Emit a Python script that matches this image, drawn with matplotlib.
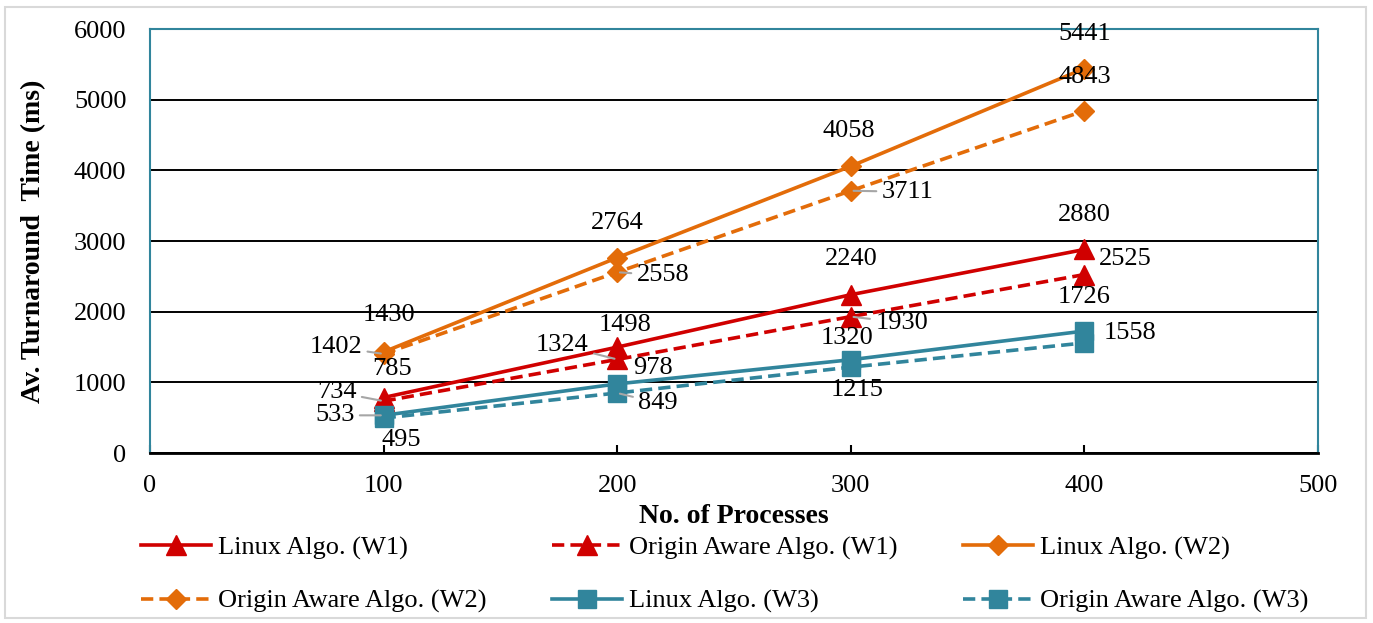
import matplotlib
matplotlib.use("Agg")
import matplotlib.pyplot as plt
from matplotlib.patches import Rectangle

# ---- data -------------------------------------------------------------
processes = [100, 200, 300, 400]

linux_w1 = [785, 1498, 2240, 2880]
origin_w1 = [734, 1324, 1930, 2525]
linux_w2 = [1430, 2764, 4058, 5441]
origin_w2 = [1402, 2558, 3711, 4843]
linux_w3 = [533, 978, 1320, 1726]
origin_w3 = [495, 849, 1215, 1558]

series_names = [
    "Linux Algo. (W1)", "Origin Aware Algo. (W1)",
    "Linux Algo. (W2)", "Origin Aware Algo. (W2)",
    "Linux Algo. (W3)", "Origin Aware Algo. (W3)",
]

x_ticks = [0, 100, 200, 300, 400, 500]
y_ticks = [0, 1000, 2000, 3000, 4000, 5000, 6000]

# ---- styling ----------------------------------------------------------
RED = "#d00000"
ORANGE = "#e36c09"
TEAL = "#31859c"
LEADER = "#a6a6a6"

plt.rcParams["font.family"] = ["Liberation Serif", "DejaVu Serif"]
FS = 19

# label offsets in pixels (dx, dy) and whether a leader line is drawn
label_layout = {
    0: [((8, 29), False), ((8, 22), False), ((0, 36), False), ((0, 34), False)],
    1: [((-47, 9), True), ((-55, 14), True), ((51, -6), True), ((41, 16), False)],
    2: [((5, 37), False), ((0, 35), False), ((-2, 35), False), ((0, 35), False)],
    3: [((-48, 7), True), ((46, -3), True), ((57, -1), True), ((0, 34), False)],
    4: [((-49, 0), True), ((36, 16), False), ((-4, 22), False), ((0, 34), False)],
    5: [((18, -22), False), ((41, -10), True), ((6, -23), False), ((46, 10), False)],
}

fig = plt.figure(figsize=(13.73, 6.23), dpi=100)
ax = fig.add_axes([150 / 1373, 1 - 453 / 623, 1168 / 1373, 424 / 623])

series = [linux_w1, origin_w1, linux_w2, origin_w2, linux_w3, origin_w3]
colors = [RED, RED, ORANGE, ORANGE, TEAL, TEAL]
markers = ["^", "^", "D", "D", "s", "s"]
msizes = [14, 14, 10.5, 10.5, 13, 13]

handles = []
for i, vals in enumerate(series):
    dashed = i % 2 == 1
    (ln,) = ax.plot(
        processes, vals, color=colors[i], lw=2.6,
        marker=markers[i], ms=msizes[i], mfc=colors[i], mec=colors[i], mew=1,
        label=series_names[i], zorder=3 + i * 0.1,
    )
    if dashed:
        ln.set_dashes((3.4, 1.7))
    handles.append(ln)

# data labels
for i, vals in enumerate(series):
    for j, v in enumerate(vals):
        (dx, dy), leader = label_layout[i][j]
        kw = {}
        if leader:
            kw["arrowprops"] = dict(arrowstyle="-", color=LEADER, lw=1.5,
                                    shrinkA=2, shrinkB=2)
        ax.annotate(str(v), xy=(processes[j], v), xytext=(dx, dy),
                    textcoords="offset pixels", ha="center", va="center",
                    fontsize=FS, color="black", zorder=10, **kw)

# axes
ax.set_xlim(0, 500)
ax.set_ylim(0, 6000)
ax.set_xticks(x_ticks)
ax.set_yticks(y_ticks)
ax.set_xticklabels([str(t) for t in x_ticks], fontsize=FS)
ax.set_yticklabels([str(t) for t in y_ticks], fontsize=FS)
ax.tick_params(axis="x", direction="in", length=6, width=1.5, color="black", pad=16)
ax.tick_params(axis="y", length=0, pad=17)

ax.yaxis.grid(True, color="black", lw=1.4)
ax.set_axisbelow(True)
for side in ("left", "top", "right"):
    ax.spines[side].set_color(TEAL)
    ax.spines[side].set_linewidth(1.5)
ax.spines["bottom"].set_color("black")
ax.spines["bottom"].set_linewidth(2)
ax.spines["bottom"].set_zorder(2.5)

ax.set_xlabel("No. of Processes", fontsize=20, fontweight="bold", labelpad=5)
ax.set_ylabel("Av. Turnaround  Time (ms)", fontsize=20, fontweight="bold", labelpad=20)

# legend, laid out row by row
order = [0, 3, 1, 4, 2, 5]
leg = fig.legend(
    [handles[k] for k in order], [series_names[k] for k in order],
    ncol=3, loc="upper left", bbox_to_anchor=(141 / 1373, 1 - 536 / 623),
    frameon=False, fontsize=FS, handlelength=2.65, handletextpad=0.25,
    columnspacing=2.5, labelspacing=1.12, borderpad=0, borderaxespad=0,
)

# light frame around the figure
fig.patches.append(Rectangle((5 / 1373, 5 / 623), 1 - 12 / 1373, 1 - 12 / 623,
                             transform=fig.transFigure, fill=False,
                             edgecolor="#d9d9d9", lw=1.5))

fig.savefig("out.png", dpi=100)
